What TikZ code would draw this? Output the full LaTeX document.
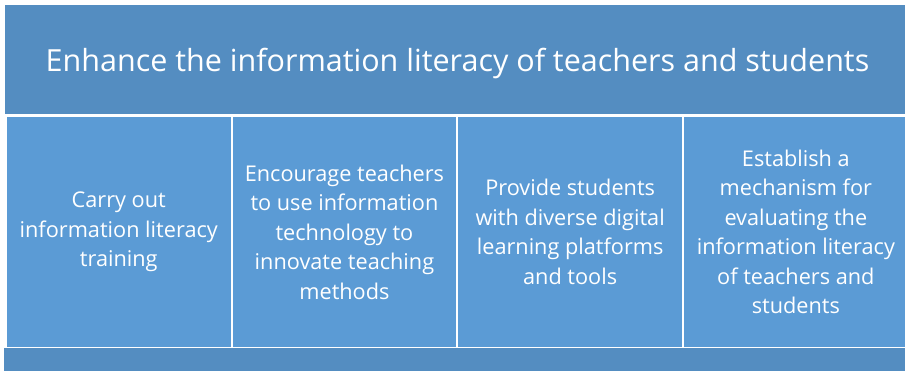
\documentclass[tikz,border=0pt]{standalone}
\usepackage{fontspec}
\setmainfont{Open Sans}
\usetikzlibrary{positioning}
\usepackage{xcolor}
\definecolor{barblue}{HTML}{548DC1}
\definecolor{boxblue}{HTML}{5B9BD5}

\begin{document}
\begin{tikzpicture}[
  x=1pt, y=1pt,
  node distance=2.2pt,
  bar/.style={rectangle, fill=barblue, inner sep=0pt, outer sep=0pt, anchor=north west, minimum width=906pt, text=white},
  task/.style={rectangle, fill=boxblue, inner sep=0pt, outer sep=0pt, minimum width=223.5pt, minimum height=230pt, align=center, text=white, font=\fontsize{21.7}{29.5}\selectfont}
]
\useasboundingbox (0,0) rectangle (905,-371);

\node[bar, minimum height=109pt, text height=33pt, text depth=8pt, font=\fontsize{30.5}{36}\selectfont] (goal) at (4.5,-5) {Enhance the information literacy of teachers and students};

\node[task, anchor=north west] (train) at (7,-117) {Carry out\\information literacy\\training};
\node[task, right=of train] (teach) {Encourage teachers\\to use information\\technology to\\innovate teaching\\methods};
\node[task, right=of teach] (tools) {Provide students\\with diverse digital\\learning platforms\\and tools};
\node[task, right=of tools] (eval) {Establish a\\mechanism for\\evaluating the\\information literacy\\of teachers and\\students};

\node[bar, minimum height=30pt] (base) at (4.3,-348) {};

\end{tikzpicture}
\end{document}
